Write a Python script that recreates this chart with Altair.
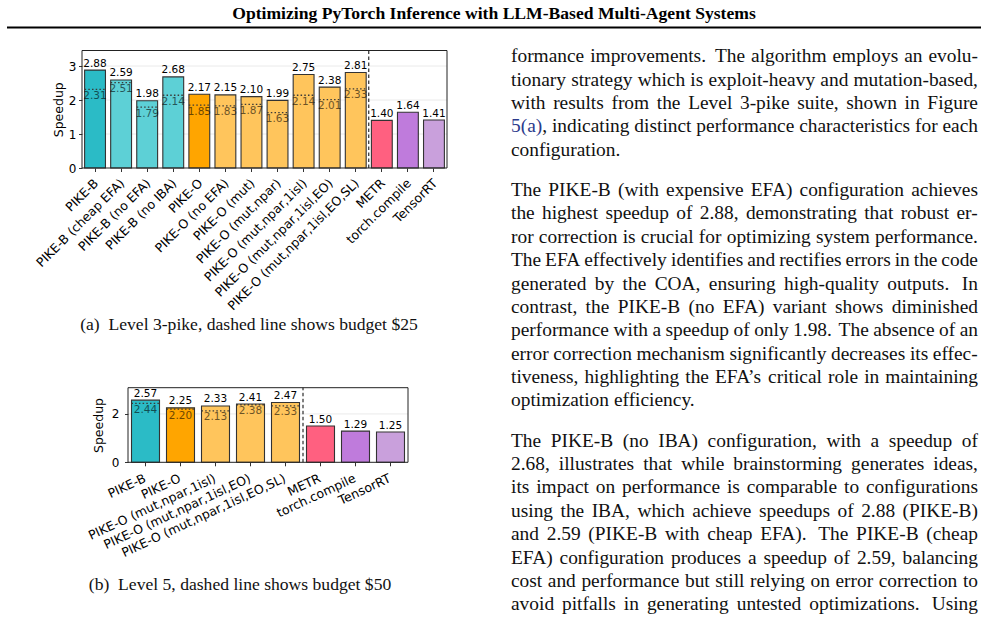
import altair as alt
import pandas as pd

W, H = 988, 626

# ---------------- data ----------------
title_text = "Optimizing PyTorch Inference with LLM-Based Multi-Agent Systems"
caption_a = "(a)\u00a0 Level 3-pike, dashed line shows budget $25"
caption_b = "(b)\u00a0 Level 5, dashed line shows budget $50"

cats_a = ["PIKE-B", "PIKE-B (cheap EFA)", "PIKE-B (no EFA)", "PIKE-B (no IBA)", "PIKE-O",
          "PIKE-O (no EFA)", "PIKE-O (mut)", "PIKE-O (mut,npar)", "PIKE-O (mut,npar,1isl)",
          "PIKE-O (mut,npar,1isl,EO)", "PIKE-O (mut,npar,1isl,EO,SL)", "METR", "torch.compile",
          "TensorRT"]
speed_a = [2.88, 2.59, 1.98, 2.68, 2.17, 2.15, 2.10, 1.99, 2.75, 2.38, 2.81, 1.40, 1.64, 1.41]
budget_a = [2.31, 2.51, 1.79, 2.14, 1.85, 1.83, 1.87, 1.63, 2.14, 2.01, 2.33, None, None, None]
group_a = ["PIKE-B", "PIKE-B variant", "PIKE-B variant", "PIKE-B variant", "PIKE-O",
           "PIKE-O variant", "PIKE-O variant", "PIKE-O variant", "PIKE-O variant",
           "PIKE-O variant", "PIKE-O variant", "METR", "torch.compile", "TensorRT"]
ticks_a = [0, 1, 2, 3]

cats_b = ["PIKE-B", "PIKE-O", "PIKE-O (mut,npar,1isl)", "PIKE-O (mut,npar,1isl,EO)",
          "PIKE-O (mut,npar,1isl,EO,SL)", "METR", "torch.compile", "TensorRT"]
speed_b = [2.57, 2.25, 2.33, 2.41, 2.47, 1.50, 1.29, 1.25]
budget_b = [2.44, 2.20, 2.13, 2.38, 2.33, None, None, None]
group_b = ["PIKE-B", "PIKE-O", "PIKE-O variant", "PIKE-O variant", "PIKE-O variant",
           "METR", "torch.compile", "TensorRT"]
ticks_b = [0, 2]

groups = ["PIKE-B", "PIKE-B variant", "PIKE-O", "PIKE-O variant", "METR", "torch.compile", "TensorRT"]
group_colors = ["#2bbbc6", "#5dd0d6", "#ffa500", "#ffc55c", "#ff6080", "#bf7bdc", "#c9a0dc"]

para1 = ["formance improvements. The algorithm employs an evolu-",
         "tionary strategy which is exploit-heavy and mutation-based,",
         "with results from the Level 3-pike suite, shown in Figure",
         "[5(a)], indicating distinct performance characteristics for each",
         "configuration."]
para2 = ["The PIKE-B (with expensive EFA) configuration achieves",
         "the highest speedup of 2.88, demonstrating that robust er-",
         "ror correction is crucial for optimizing system performance.",
         "The EFA effectively identifies and rectifies errors in the code",
         "generated by the COA, ensuring high-quality outputs. In",
         "contrast, the PIKE-B (no EFA) variant shows diminished",
         "performance with a speedup of only 1.98. The absence of an",
         "error correction mechanism significantly decreases its effec-",
         "tiveness, highlighting the EFA\u2019s critical role in maintaining",
         "optimization efficiency."]
para3 = ["The PIKE-B (no IBA) configuration, with a speedup of",
         "2.68, illustrates that while brainstorming generates ideas,",
         "its impact on performance is comparable to configurations",
         "using the IBA, which achieve speedups of 2.88 (PIKE-B)",
         "and 2.59 (PIKE-B with cheap EFA). The PIKE-B (cheap",
         "EFA) configuration produces a speedup of 2.59, balancing",
         "cost and performance but still relying on error correction to",
         "avoid pitfalls in generating untested optimizations. Using"]

# ---------------- styles / layout ----------------
SANS = "DejaVu Sans"
SERIF = "Liberation Serif"
INK = "#111111"
LINK = "#2b3a8c"


def panel(sfx, cats, speed, budget, group, sep_cat, x0, x1, ybot, ytop, ymax, yticks,
          angle, lab_size, lab_off, lab_pad, ylab_pad, ytitle_pad):
    c, v, b, g = "cat_" + sfx, "speedup_" + sfx, "budget_" + sfx, "group_" + sfx
    df = pd.DataFrame({c: cats, v: speed, b: budget, g: group})
    dfb = df.dropna(subset=[b])
    n = len(cats)
    step = (x1 - x0) / (n - 0.2 + 0.2)
    xs = alt.Scale(domain=cats, range=[x0, x1], paddingInner=0.2, paddingOuter=0.1)
    ys = alt.Scale(domain=[0, ymax], range=[ybot, ytop], nice=False, zero=False)
    x_axis = alt.Axis(orient="bottom", offset=ybot - H, labelAngle=-angle, labelAlign="right",
                      labelBaseline="top", labelFont=SANS, labelFontSize=lab_size,
                      labelColor="black", labelPadding=lab_pad, labelOffset=lab_off,
                      labelLimit=400, labelOverlap=False, tickColor="black", tickSize=3.5,
                      tickWidth=0.8, domain=False, grid=False, title=None)
    y_axis = alt.Axis(orient="left", offset=-x0, values=yticks, labelFont=SANS, labelFontSize=12,
                      labelColor="black", labelPadding=ylab_pad, tickColor="black", tickSize=3.5,
                      tickWidth=0.8, domain=False, grid=False, title="Speedup", titleFont=SANS,
                      titleFontSize=12.5, titleFontWeight="normal", titleColor="black",
                      titlePadding=ytitle_pad)

    def X(**kw):
        return alt.X(f"{c}:N", sort=None, scale=xs, axis=x_axis, **kw)

    def Y(field):
        return alt.Y(f"{field}:Q", scale=ys, axis=y_axis)

    grid = alt.Chart(pd.DataFrame({v: [t for t in yticks if t > 0]})).mark_rule(
        color="#e4e4e4", strokeWidth=0.8).encode(
        y=Y(v), x=alt.value(x0), x2=alt.value(x1))

    bars = alt.Chart(df).mark_bar(stroke="#333333", strokeWidth=1.1).encode(
        x=X(), y=Y(v),
        color=alt.Color(f"{g}:N", scale=alt.Scale(domain=groups, range=group_colors), legend=None))

    dotted = alt.Chart(dfb).mark_rule(color="#3a3a3a", strokeWidth=1.3, strokeDash=[1.5, 2.2]).encode(
        x=X(bandPosition=0), x2=alt.X2(f"{c}", bandPosition=1), y=Y(b))

    vals = alt.Chart(df).mark_text(baseline="bottom", dy=-1.5, font=SANS, fontSize=10.5,
                                   color="black").encode(
        x=X(), y=Y(v), text=alt.Text(f"{v}:Q", format=".2f"))

    buds = alt.Chart(dfb).mark_text(baseline="top", dy=1.5, font=SANS, fontSize=10.5,
                                    color="black", opacity=0.58).encode(
        x=X(), y=Y(b), text=alt.Text(f"{b}:Q", format=".2f"))

    sep = alt.Chart(pd.DataFrame({c: [sep_cat], "lo_" + sfx: [0.0], "hi_" + sfx: [ymax]})).mark_rule(
        color="black", strokeWidth=1, strokeDash=[3.5, 2.5], xOffset=-step * 0.1).encode(
        x=X(bandPosition=0), y=Y("lo_" + sfx), y2=alt.Y2(f"hi_{sfx}"))

    frame = alt.Chart(pd.DataFrame({"k": [0]})).mark_rect(
        fillOpacity=0, stroke="#222222", strokeWidth=1).encode(
        x=alt.value(x0), x2=alt.value(x1), y=alt.value(ytop), y2=alt.value(ybot))

    return alt.layer(grid, bars, dotted, vals, buds, sep, frame)


panel_a = panel("a", cats_a, speed_a, budget_a, group_a, "METR", 82, 447, 168, 50.5, 3.456,
                ticks_a, 45, 12.5, -3, 5, 2.5, 3)
panel_b = panel("b", cats_b, speed_b, budget_b, group_b, "METR", 128, 408, 462.3, 387.7, 3.084,
                ticks_b, 25, 12.5, -3, 6, 5.5, 6)

# ---------------- page text ----------------
TIMES = {' ': 250, '$': 500, '(': 333, ')': 333, ',': 250, '-': 333, '.': 250, '\u2019': 333,
         ':': 278, ';': 278,
         'A': 722, 'B': 667, 'C': 667, 'D': 722, 'E': 611, 'F': 556, 'G': 722, 'H': 722, 'I': 333,
         'J': 389, 'K': 722, 'L': 611, 'M': 889, 'N': 722, 'O': 722, 'P': 556, 'Q': 722, 'R': 667,
         'S': 556, 'T': 611, 'U': 722, 'V': 722, 'W': 944, 'X': 722, 'Y': 722, 'Z': 611,
         'a': 444, 'b': 500, 'c': 444, 'd': 500, 'e': 444, 'f': 333, 'g': 500, 'h': 500, 'i': 278,
         'j': 278, 'k': 500, 'l': 278, 'm': 778, 'n': 500, 'o': 500, 'p': 500, 'q': 500, 'r': 333,
         's': 389, 't': 278, 'u': 500, 'v': 500, 'w': 722, 'x': 500, 'y': 500, 'z': 444}
KERN = {"FA": -74, "A\u2019": -111, "PI": 0, "Ty": -80, "Le": 0}
FS = 19.4
XL, XR = 511, 978
LINE = 23.35
PARA_GAP = 40.5


def tw(s):
    w = sum(TIMES.get(ch, 500) for ch in s)
    w += sum(KERN.get(s[i:i + 2], 0) for i in range(len(s) - 1))
    return w / 1000.0 * FS


def segments(word):
    if word.startswith("["):
        j = word.index("]")
        segs = [(word[1:j], "link")]
        if word[j + 1:]:
            segs.append((word[j + 1:], "ink"))
        return segs
    return [(word, "ink")]


rows = []
centre = 57.0
for pi, (para, ends) in enumerate([(para1, True), (para2, True), (para3, False)]):
    if pi > 0:
        centre += PARA_GAP - LINE
    for li, line in enumerate(para):
        words = line.split(" ")
        widths = [tw(w.replace("[", "").replace("]", "")) for w in words]
        last = ends and li == len(para) - 1
        weights = [1.5 if words[k].endswith(".") else 1.0 for k in range(len(words) - 1)]
        if last or len(words) < 2:
            gaps = [0.25 * FS * wt for wt in weights]
        else:
            free = (XR - XL) - sum(widths)
            gaps = [free * wt / sum(weights) for wt in weights]
        x = XL
        for k, w in enumerate(words):
            sx = x
            for txt, kind in segments(w):
                rows.append({"x": sx, "y": centre + 5.2, "t": txt, "kind": kind})
                sx += tw(txt)
            x += widths[k] + (gaps[k] if k < len(gaps) else 0)
        centre += LINE

body = pd.DataFrame(rows)
body_ink = alt.Chart(body[body.kind == "ink"]).mark_text(
    align="left", baseline="alphabetic", font=SERIF, fontSize=FS, color=INK).encode(
    x=alt.X("x:Q", scale=None), y=alt.Y("y:Q", scale=None), text="t:N")
body_link = alt.Chart(body[body.kind == "link"]).mark_text(
    align="left", baseline="alphabetic", font=SERIF, fontSize=FS, color=LINK).encode(
    x=alt.X("x:Q", scale=None), y=alt.Y("y:Q", scale=None), text="t:N")

header = alt.Chart(pd.DataFrame({"t": [title_text]})).mark_text(
    font=SERIF, fontWeight="bold", fontSize=17.6, align="center", baseline="alphabetic",
    color="black").encode(x=alt.value(494), y=alt.value(19), text="t:N")
header_rule = alt.Chart(pd.DataFrame({"k": [0]})).mark_rule(color="black", strokeWidth=2).encode(
    x=alt.value(7), x2=alt.value(981), y=alt.value(27.5))

cap_a = alt.Chart(pd.DataFrame({"t": [caption_a]})).mark_text(
    font=SERIF, fontSize=17.6, align="center", baseline="alphabetic", color=INK).encode(
    x=alt.value(249), y=alt.value(330), text="t:N")
cap_b = alt.Chart(pd.DataFrame({"t": [caption_b]})).mark_text(
    font=SERIF, fontSize=17.6, align="center", baseline="alphabetic", color=INK).encode(
    x=alt.value(240), y=alt.value(590), text="t:N")

chart = alt.layer(panel_a, panel_b, header, header_rule, cap_a, cap_b, body_ink, body_link).resolve_scale(
    x="independent", y="independent").properties(
    width=W, height=H, autosize=alt.AutoSizeParams(type="none"), padding=0,
    background="white").configure_view(strokeWidth=0)

chart.save("out.html", embed_options={"renderer": "svg", "actions": False})
